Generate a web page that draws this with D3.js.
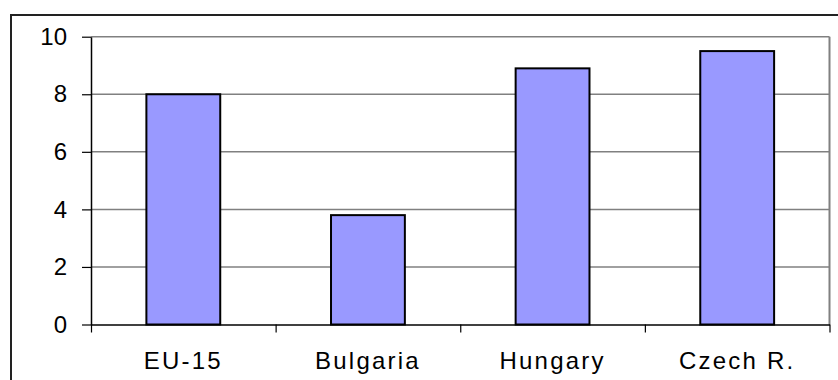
<!DOCTYPE html>
<html>
<head>
    <script src="https://d3js.org/d3.v7.min.js"></script>
    <style>
        body { margin: 0; background: #fff; }
        text { font-family: "Liberation Sans", Arial, sans-serif; }
    </style>
</head>
<body>
    <div id="chart"></div>
    <script>
        // data
        const categories = ["EU-15", "Bulgaria", "Hungary", "Czech R."];
        const values = [8.0, 3.8, 8.9, 9.5];
        const yTicks = [0, 2, 4, 6, 8, 10];

        const width = 838, height = 380;
        const plotLeft = 91, plotRight = 829.5, plotTop = 36.7, plotBottom = 324.5;

        const svg = d3.select("#chart")
            .append("svg")
            .attr("width", width)
            .attr("height", height);

        // outer chart frame (runs off right and bottom edges)
        svg.append("rect")
            .attr("x", 11).attr("y", 15)
            .attr("width", 840).attr("height", 380)
            .attr("fill", "none")
            .attr("stroke", "#222")
            .attr("stroke-width", 2);

        const y = d3.scaleLinear().domain([0, 10]).range([plotBottom, plotTop]);
        const x = d3.scaleBand()
            .domain(categories)
            .range([plotLeft, plotRight])
            .paddingInner(0.6)
            .paddingOuter(0.3);
        // category boundaries for the tick marks
        const xEdge = d3.scaleLinear().domain([0, categories.length]).range([plotLeft, plotRight]);

        // gridlines
        svg.append("g")
            .selectAll("line")
            .data(yTicks.filter(d => d > 0))
            .join("line")
            .attr("x1", plotLeft).attr("x2", plotRight)
            .attr("y1", d => y(d)).attr("y2", d => y(d))
            .attr("stroke", "#808080")
            .attr("stroke-width", 1.5);

        // plot area right border
        svg.append("line")
            .attr("x1", plotRight).attr("x2", plotRight)
            .attr("y1", plotTop).attr("y2", plotBottom)
            .attr("stroke", "#808080")
            .attr("stroke-width", 2);

        // bars
        svg.append("g")
            .selectAll("rect")
            .data(values)
            .join("rect")
            .attr("x", (d, i) => x(categories[i]))
            .attr("y", d => y(d))
            .attr("width", x.bandwidth())
            .attr("height", d => y(0) - y(d))
            .attr("fill", "#9999FF")
            .attr("stroke", "#000")
            .attr("stroke-width", 2);

        // y axis
        const yAxis = svg.append("g")
            .attr("transform", `translate(${plotLeft},0)`)
            .call(d3.axisLeft(y).tickValues(yTicks).tickSize(9).tickSizeOuter(0).tickPadding(15));
        yAxis.select(".domain").attr("stroke", "#000").attr("stroke-width", 1.5);
        yAxis.selectAll(".tick line").attr("stroke", "#000").attr("stroke-width", 1.2);
        yAxis.selectAll("text")
            .attr("font-size", 24)
            .attr("fill", "#000")
            .style("font-family", "'Liberation Sans', Arial, sans-serif");

        // x axis tick marks at category boundaries
        const xTickAxis = svg.append("g")
            .attr("transform", `translate(0,${plotBottom})`)
            .call(d3.axisBottom(xEdge).tickValues(d3.range(categories.length + 1)).tickFormat("").tickSize(8).tickSizeOuter(0));
        xTickAxis.select(".domain").attr("stroke", "#000").attr("stroke-width", 1.5);
        xTickAxis.selectAll(".tick line").attr("stroke", "#000").attr("stroke-width", 1.2);

        // x labels
        const xAxis = svg.append("g")
            .attr("transform", `translate(0,${plotBottom})`)
            .call(d3.axisBottom(x).tickSize(0).tickPadding(27));
        xAxis.select(".domain").remove();
        xAxis.selectAll("text")
            .attr("font-size", 24)
            .attr("fill", "#000")
            .attr("letter-spacing", 2.2)
            .style("font-family", "'Liberation Sans', Arial, sans-serif");
    </script>
</body>
</html>
